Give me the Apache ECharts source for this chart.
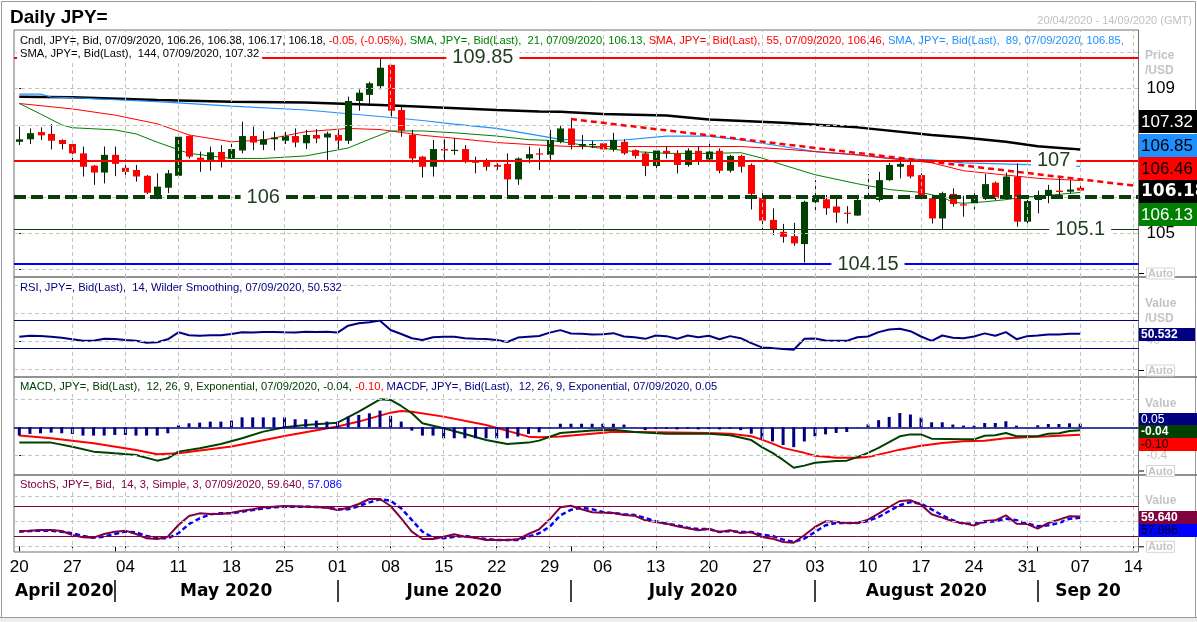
<!DOCTYPE html>
<html>
<head>
<meta charset="utf-8">
<title>Daily JPY=</title>
<script src="https://cdn.jsdelivr.net/npm/echarts@6.0.0/dist/echarts.min.js"></script>
<style>
html,body{margin:0;padding:0;background:#fff;}
#chart{width:1197px;height:622px;}
</style>
</head>
<body>
<div id="chart"></div>
<script>
// ---------- categories: trading days of 2020 (MM-DD) ----------
const dates = ['04-20','04-21','04-22','04-23','04-24','04-27','04-28','04-29','04-30',
'05-01','05-04','05-05','05-06','05-07','05-08','05-11','05-12','05-13','05-14','05-15',
'05-18','05-19','05-20','05-21','05-22','05-25','05-26','05-27','05-28','05-29',
'06-01','06-02','06-03','06-04','06-05','06-08','06-09','06-10','06-11','06-12',
'06-15','06-16','06-17','06-18','06-19','06-22','06-23','06-24','06-25','06-26',
'06-29','06-30','07-01','07-02','07-03','07-06','07-07','07-08','07-09','07-10',
'07-13','07-14','07-15','07-16','07-17','07-20','07-21','07-22','07-23','07-24',
'07-27','07-28','07-29','07-30','07-31','08-03','08-04','08-05','08-06','08-07',
'08-10','08-11','08-12','08-13','08-14','08-17','08-18','08-19','08-20','08-21',
'08-24','08-25','08-26','08-27','08-28','08-31','09-01','09-02','09-03','09-04',
'09-07','09-08','09-09','09-10','09-11','09-14'];
const monthNames = ['April 2020','May 2020','June 2020','July 2020','August 2020','Sep 20'];

// ---------- candles (Apr 20 .. Sep 7) ----------
const open = [107.53,107.60,107.80,107.75,107.58,107.47,107.21,106.87,106.68,107.17,
106.81,106.75,106.59,106.04,106.26,106.59,107.69,107.09,107.03,107.25,
107.07,107.29,107.69,107.45,107.60,107.56,107.69,107.49,107.72,107.65,
107.72,107.56,108.66,108.83,109.07,109.66,108.41,107.72,107.12,106.84,
107.33,107.30,107.33,107.01,106.98,106.89,106.92,106.49,107.07,107.21,
107.17,107.53,107.90,107.42,107.44,107.49,107.32,107.53,107.30,107.21,
106.86,107.28,107.21,106.89,107.28,107.04,107.28,106.73,107.14,106.89,
105.97,105.37,105.04,104.92,104.70,105.86,105.94,105.74,105.57,105.49,
105.98,105.92,106.47,106.84,106.89,106.61,105.97,105.41,106.09,105.80,
105.83,106.01,106.40,105.97,106.57,105.32,105.92,106.03,106.18,106.15,
106.26];
const high = [107.95,107.90,107.93,108.02,107.60,107.58,107.40,106.89,107.40,107.40,
107.05,106.89,106.61,106.66,106.75,107.77,107.71,107.26,107.40,107.44,
107.49,108.09,107.95,107.83,107.81,107.81,107.90,107.86,107.88,107.81,
107.86,108.78,108.98,109.19,109.85,109.66,108.50,107.86,107.14,107.58,
107.60,107.63,107.44,107.12,107.07,106.94,107.21,107.10,107.40,107.35,
107.86,107.97,108.16,107.72,107.56,107.58,107.78,107.60,107.32,107.26,
107.40,107.40,107.30,107.35,107.40,107.51,107.35,107.17,107.17,106.93,
106.20,105.69,105.26,105.29,105.90,106.47,106.06,105.97,105.75,106.06,
106.64,106.70,106.95,107.07,106.98,106.66,106.01,106.15,106.24,106.04,
106.11,106.64,106.43,106.68,106.93,105.92,106.18,106.34,106.57,106.47,
106.38];
const low = [107.44,107.47,107.58,107.32,107.32,106.98,106.57,106.34,106.38,106.58,
106.57,106.43,106.09,105.94,106.11,106.52,107.07,106.70,106.73,106.82,
107.05,107.21,107.30,107.30,107.29,107.47,107.38,107.33,107.49,107.03,
107.33,107.47,108.39,108.58,108.98,108.23,107.67,106.95,106.54,106.57,
106.98,107.17,106.94,106.66,106.73,106.75,106.01,106.34,106.94,106.75,
107.03,107.49,107.32,107.32,107.36,107.26,107.26,107.17,107.07,106.58,
106.75,107.07,106.66,106.84,106.89,106.98,106.66,106.68,106.68,105.66,
105.11,104.95,104.74,104.65,104.19,105.57,105.51,105.29,105.27,105.48,
105.92,105.87,106.45,106.52,106.52,105.95,105.27,105.09,105.74,105.46,
105.66,105.92,105.92,105.94,105.18,105.27,105.55,105.83,106.03,106.11,
106.17];
const close = [107.60,107.77,107.71,107.56,107.47,107.21,106.84,106.68,107.17,106.92,
106.70,106.57,106.12,106.29,106.66,107.67,107.12,107.03,107.24,107.03,
107.33,107.69,107.51,107.60,107.65,107.69,107.51,107.72,107.62,107.76,
107.56,108.66,108.89,109.15,109.58,108.39,107.84,107.07,106.84,107.33,
107.29,107.31,106.98,106.95,106.84,106.84,106.49,107.07,107.19,107.18,
107.58,107.90,107.44,107.47,107.47,107.32,107.58,107.21,107.14,106.86,
107.29,107.21,106.89,107.29,106.98,107.26,106.73,107.14,106.84,106.09,
105.35,105.09,104.90,104.72,105.87,106.04,105.69,105.57,105.55,105.92,
106.05,106.47,106.89,106.92,106.57,105.99,105.41,106.11,105.81,105.78,
106.04,106.36,105.97,106.57,105.32,105.89,106.03,106.20,106.14,106.21,
106.18];

// ---------- moving averages (read at sample days) ----------
const sma21 = [['04-20',108.59],['04-22',108.30],['04-24',108.00],['04-27',107.92],['05-01',107.86],['05-05',107.75],['05-07',107.52],['05-12',107.21],['05-18',107.07],['05-21',107.07],['05-27',107.14],['06-02',107.36],['06-04',107.60],['06-08',107.83],['06-11',107.83],['06-16',107.78],['06-22',107.69],['06-25',107.59],['06-29',107.57],['07-01',107.50],['07-03',107.38],['07-09',107.26],['07-14',107.21],['07-20',107.21],['07-23',107.23],['07-27',107.08],['07-29',106.89],['08-03',106.62],['08-07',106.37],['08-12',106.21],['08-17',106.13],['08-19',106.00],['08-20',105.86],['08-21',105.83],['08-25',105.87],['08-27',105.93],['08-31',106.01],['09-02',106.05],['09-07',106.13]];
const sma55 = [['04-20',108.59],['04-27',108.44],['05-01',108.27],['05-07',108.03],['05-12',107.72],['05-18',107.53],['05-21',107.58],['05-27',107.81],['06-02',107.90],['06-05',107.87],['06-11',107.71],['06-16',107.63],['06-22',107.51],['06-26',107.44],['07-01',107.40],['07-13',107.40],['07-23',107.40],['07-29',107.33],['08-03',107.26],['08-07',107.17],['08-12',107.07],['08-18',106.95],['08-21',106.73],['08-27',106.61],['09-01',106.52],['09-07',106.46]];
const sma89 = [['04-20',108.85],['04-22',108.85],['04-23',108.77],['04-27',108.75],['05-07',108.64],['05-18',108.52],['05-27',108.41],['06-05',108.23],['06-11',108.12],['06-16',108.02],['06-22',107.90],['06-26',107.70],['06-30',107.60],['07-03',107.56],['07-08',107.58],['07-14',107.69],['07-20',107.69],['07-23',107.58],['07-29',107.40],['08-03',107.26],['08-07',107.17],['08-12',107.07],['08-18',107.03],['08-21',106.95],['08-31',106.90],['09-07',106.85]];
const sma144 = [['04-20',108.78],['04-27',108.76],['05-07',108.69],['05-18',108.64],['05-27',108.62],['06-05',108.55],['06-11',108.50],['06-22',108.41],['06-26',108.37],['06-30',108.36],['07-06',108.30],['07-14',108.26],['07-20',108.15],['07-29',108.06],['08-07',107.93],['08-18',107.72],['08-21',107.65],['08-27',107.53],['09-01',107.41],['09-07',107.32]];

// ---------- price levels & trend line ----------
const levels = [109.85, 107, 106, 105.1, 104.15];
const levelText = ['109.85', '107', '106', '105.1', '104.15'];
const trend = [['07-01', 108.16], ['09-14', 106.32]];

// ---------- RSI(14) ----------
const rsi = [46.3,47.8,47.3,46.3,44.9,42.5,40.6,40.6,43.4,42.9,
41.6,40.6,37.7,38.2,42.5,52.6,48.3,47.8,48.3,48.3,
50.2,52.6,52.2,53.1,53.1,52.6,52.2,53.6,53.1,53.6,
52.2,62.2,65.6,67.0,69.5,56.0,50.2,44.0,41.6,45.4,
46.3,46.3,44.0,43.4,42.9,41.6,38.7,45.0,46.3,47.3,
52.2,55.8,51.0,50.7,49.4,49.8,51.4,46.6,45.6,43.2,
48.0,47.1,43.2,48.0,45.6,47.6,42.7,47.1,44.2,37.0,
30.8,29.8,28.4,27.4,43.2,43.7,40.8,40.3,40.3,45.6,
46.6,52.9,56.7,57.7,54.3,46.6,40.3,48.0,44.7,44.2,
46.6,51.1,47.6,52.9,42.7,47.1,48.0,49.5,49.5,50.5,
50.532];
const rsiBands = [70, 30];

// ---------- MACD (12,26,9) ----------
const macdHist = [-0.117,-0.094,-0.085,-0.075,-0.085,-0.094,-0.117,-0.117,-0.117,-0.108,
-0.108,-0.117,-0.117,-0.117,-0.085,0.028,0.056,0.066,0.08,0.08,
0.094,0.14,0.14,0.14,0.14,0.14,0.113,0.113,0.094,0.08,
0.08,0.15,0.174,0.197,0.235,0.16,0.08,-0.047,-0.117,-0.117,
-0.155,-0.155,-0.155,-0.155,-0.155,-0.155,-0.155,-0.13,-0.094,-0.07,
-0.008,0.05,0.05,0.05,0.05,0.05,0.05,0.038,0.003,-0.04,
-0.02,-0.02,-0.03,-0.02,-0.03,-0.02,-0.03,-0.02,-0.04,-0.09,
-0.17,-0.2,-0.25,-0.28,-0.2,-0.127,-0.1,-0.08,-0.066,-0.005,
0.04,0.1,0.146,0.2,0.18,0.136,0.07,0.07,0.038,0.023,
0.023,0.06,0.06,0.085,0.023,-0.003,0.028,0.047,0.047,0.056,
0.05];
const macdLine = [['04-20',-0.216],['04-23',-0.216],['04-27',-0.273],['04-29',-0.343],['05-01',-0.367],['05-05',-0.39],['05-07',-0.47],['05-08',-0.437],['05-11',-0.343],['05-13',-0.296],['05-15',-0.235],['05-19',-0.155],['05-21',-0.061],['05-25',0.0],['05-27',0.032],['06-01',0.065],['06-03',0.22],['06-05',0.394],['06-08',0.385],['06-09',0.30],['06-10',0.197],['06-11',0.056],['06-15',-0.014],['06-17',-0.094],['06-19',-0.18],['06-23',-0.235],['06-25',-0.216],['06-26',-0.188],['06-30',-0.08],['07-03',-0.045],['07-07',-0.035],['07-09',-0.066],['07-14',-0.09],['07-20',-0.09],['07-22',-0.113],['07-24',-0.18],['07-27',-0.28],['07-28',-0.36],['07-29',-0.46],['07-30',-0.57],['07-31',-0.54],['08-03',-0.50],['08-05',-0.475],['08-06',-0.47],['08-07',-0.42],['08-10',-0.36],['08-11',-0.29],['08-12',-0.21],['08-13',-0.127],['08-14',-0.10],['08-17',-0.10],['08-18',-0.16],['08-21',-0.17],['08-24',-0.17],['08-25',-0.12],['08-26',-0.113],['08-27',-0.08],['08-28',-0.127],['09-01',-0.125],['09-02',-0.09],['09-03',-0.085],['09-04',-0.052],['09-07',-0.042]];
const macdSignal = [['04-20',-0.117],['04-23',-0.155],['04-29',-0.225],['05-05',-0.32],['05-07',-0.38],['05-11',-0.367],['05-18',-0.272],['05-25',-0.122],['06-01',0.01],['06-03',0.08],['06-08',0.206],['06-09',0.23],['06-10',0.22],['06-15',0.15],['06-19',0.032],['06-25',-0.132],['06-26',-0.141],['06-30',-0.13],['07-03',-0.09],['07-07',-0.063],['07-13',-0.07],['07-20',-0.08],['07-22',-0.09],['07-24',-0.127],['07-27',-0.174],['07-28',-0.23],['07-29',-0.29],['07-30',-0.325],['07-31',-0.36],['08-03',-0.40],['08-05',-0.43],['08-07',-0.43],['08-10',-0.42],['08-11',-0.385],['08-13',-0.315],['08-17',-0.26],['08-19',-0.22],['08-21',-0.197],['08-25',-0.19],['08-27',-0.155],['08-31',-0.14],['09-02',-0.127],['09-07',-0.104]];

// ---------- Slow stochastic (14,3,3) ----------
const stochK = [30.6,31.3,32.6,32.6,30.6,22.6,17.9,17.3,24.6,29.3,
31.3,24.6,15.9,14.6,19.3,42.6,60.6,65.9,64.6,64.6,
67.3,71.3,73.9,77.9,79.3,80.6,80.0,79.3,78.6,77.3,
72.6,77.3,84.6,94.6,94.6,80.6,55.9,29.3,14.6,14.6,
19.3,23.9,19.3,17.3,12.6,12.6,12.6,13.9,24.6,33.9,
53.9,78,81,74,68,67.3,66.6,62.6,61.3,52,
48.6,45.3,40,36,32,34.6,28.6,32,26.6,28.6,
18.6,15.3,8.6,7.3,22,38.6,50,49.3,46.6,46.6,
53.3,65.3,78.6,90.6,92,83.3,64,57.3,50,46.6,
41.3,50.6,52,62,45.3,44.6,35.3,46.6,53.3,60,
59.64];
const stochD = [29.3,30.6,31.3,31.3,29.3,26,20.6,17.3,19.3,24.6,
29.3,28.0,20.6,15.9,15.9,26,44.6,55.9,63.9,65.9,
65.9,69.3,72.6,75.9,77.9,79.3,79.3,79.3,78.6,77.9,
73.9,73.9,80.6,87.9,93.9,91.3,75.9,52.6,29.3,17.3,
15.9,19.3,20.6,17.3,14.6,12.6,12.6,12.6,19.3,26,
39.3,62,73,77,74,68.6,66.6,64,62.6,56.6,
50,45.3,42,37.3,34.6,34.6,28.6,30.6,28.6,28.6,
23.3,20.6,13.3,8.6,15.3,28.6,42,46.6,46.6,46.6,
50.6,58.6,70.6,82,88.6,85.3,74,62,52,45.3,
45.3,48.6,50,55.3,52,45.3,40,42,46.6,55.3,
57.086];
const stochBands = [80, 20];

// ---------- helpers ----------
const FONT = '"Liberation Sans", Arial, sans-serif';
const LF = 11.2; // legend font size
const N = dates.length;
const di = d => dates.indexOf(d);
const daily = arr => arr.map((v, i) => [i, v]);
const pts = arr => arr.map(([d, v]) => [di(d), v]);
const mondays = dates.map((d, i) => new Date('2020-' + d + 'T12:00:00Z').getUTCDay() === 1 ? i : -1).filter(i => i >= 0);
const monthStarts = dates.map((d, i) => (i > 0 && d.slice(0, 2) !== dates[i - 1].slice(0, 2)) ? i : -1).filter(i => i >= 0);
const bounds = [-0.5, ...monthStarts, N - 0.5];
const monthMid = monthNames.map((m, k) => (bounds[k] + bounds[k + 1]) / 2);
const dayTicks = [...mondays, ...monthStarts].sort((a, b) => a - b);
const gridMondays = mondays.filter(i => i > 0);

const L = 14, W = 1124.5;
const grids = [
  {left: L, top: 30, width: W, height: 247},
  {left: L, top: 277, width: W, height: 100},
  {left: L, top: 377, width: W, height: 98},
  {left: L, top: 475, width: W, height: 77}
].map(g => Object.assign(g, {show: true, borderColor: '#6e6e6e', borderWidth: 1, backgroundColor: 'transparent'}));

const xBase = {type: 'value', min: -0.5, max: N - 0.5, axisLine: {show: false}, axisTick: {show: false}, axisLabel: {show: false}, splitLine: {show: false}};
const xAxes = [
  Object.assign({}, xBase, {gridIndex: 0}),
  Object.assign({}, xBase, {gridIndex: 1}),
  Object.assign({}, xBase, {gridIndex: 2}),
  Object.assign({}, xBase, {gridIndex: 3,
    axisTick: {show: true, customValues: dayTicks, length: 5, lineStyle: {color: '#000', width: 1}},
    axisLabel: {show: true, customValues: mondays, formatter: v => dates[Math.round(v)].slice(3), fontSize: 17, color: '#000', fontFamily: FONT, margin: 7}}),
  Object.assign({}, xBase, {gridIndex: 3, position: 'bottom', offset: 28,
    axisTick: {show: true, customValues: monthStarts, length: 22, lineStyle: {color: '#000', width: 1.5}},
    axisLabel: {show: true, customValues: monthMid, formatter: v => monthNames[monthMid.indexOf(v)] || '', fontSize: 17, fontWeight: 'bold', color: '#000', fontFamily: '"DejaVu Sans", sans-serif', margin: 3}})
];

const yBase = {type: 'value', position: 'right', axisLine: {show: false}, splitLine: {show: false}, scale: true};
const yAxes = [
  Object.assign({}, yBase, {gridIndex: 0, min: 103.79, max: 110.624,
    axisTick: {show: true, customValues: [104, 105, 109], length: 5, lineStyle: {color: '#000'}},
    axisLabel: {customValues: [105, 109], fontSize: 17, color: '#000', fontFamily: FONT, margin: 8}}),
  Object.assign({}, yBase, {gridIndex: 1, min: -11.9, max: 132.5,
    axisTick: {show: true, customValues: [40], length: 5, lineStyle: {color: '#000'}},
    axisLabel: {customValues: [40], fontSize: 12, color: '#c0c0c0', fontFamily: FONT, margin: 8}}),
  Object.assign({}, yBase, {gridIndex: 2, min: -0.672, max: 0.708,
    axisTick: {show: true, customValues: [-0.4], length: 5, lineStyle: {color: '#000'}},
    axisLabel: {customValues: [-0.4], fontSize: 12, color: '#c0c0c0', fontFamily: FONT, margin: 8}}),
  Object.assign({}, yBase, {gridIndex: 3, min: -11.4, max: 142.6,
    axisTick: {show: false}, axisLabel: {show: false}})
];

function gridLines(k, hvals, z) {
  return {type: 'line', xAxisIndex: k, yAxisIndex: k, data: [], z: z || 1, silent: true,
    markLine: {silent: true, symbol: ['none', 'none'], label: {show: false}, animation: false,
      lineStyle: {color: '#c4c4c4', type: [4, 3], width: 1},
      data: [...gridMondays.map(i => ({xAxis: i})), ...hvals.map(v => ({yAxis: v}))]}};
}
function bandLines(k, vals, color, width, z) {
  return {type: 'line', xAxisIndex: k, yAxisIndex: k, data: [], z: z || 2, silent: true,
    markLine: {silent: true, symbol: ['none', 'none'], label: {show: false}, animation: false,
      lineStyle: {color: color, type: 'solid', width: width},
      data: vals.map(v => ({yAxis: v}))}};
}
function lineS(k, data, color, width, z, dash) {
  return {type: 'line', xAxisIndex: k, yAxisIndex: k, data: data, showSymbol: false, symbol: 'none',
    connectNulls: true, z: z || 3, silent: true, animation: false,
    lineStyle: {color: color, width: width, type: dash || 'solid'}};
}

const levelStyles = [
  {color: '#ff0000', width: 2, type: 'solid'},
  {color: '#ff0000', width: 2, type: 'solid'},
  {color: '#0b3d0b', width: 4, type: [12, 5]},
  {color: '#0b3d0b', width: 1, type: 'solid'},
  {color: '#0000ff', width: 2, type: 'solid'}
];
const levelLabelAt = [43.7, 97.5, 23, 100, 80];

function renderCandle(params, api) {
  const i = api.value(0), o = api.value(1), c = api.value(2), lo = api.value(3), hi = api.value(4);
  const pO = api.coord([i, o]), pC = api.coord([i, c]), pL = api.coord([i, lo]), pH = api.coord([i, hi]);
  const bw = Math.max(3, Math.round(api.size([1, 0])[0] * 0.66));
  const xc = Math.round(pO[0]) + 0.5;
  const top = Math.min(pO[1], pC[1]);
  const h = Math.max(1.2, Math.abs(pO[1] - pC[1]));
  const up = c >= o;
  return {type: 'group', children: [
    {type: 'line', shape: {x1: xc, y1: pH[1], x2: xc, y2: pL[1]}, style: {stroke: '#111', lineWidth: 1}},
    {type: 'rect', shape: {x: xc - bw / 2, y: top, width: bw, height: h}, style: {fill: up ? '#004000' : '#ff0000'}}
  ]};
}

const series = [
  gridLines(0, [104, 105, 106, 107, 108, 109, 110]),
  gridLines(1, [0, 40, 80, 120]),
  gridLines(2, [-0.4, 0.4]),
  gridLines(3, [0, 50, 100]),
  // main levels
  {type: 'line', xAxisIndex: 0, yAxisIndex: 0, data: [], z: 2, silent: true,
    markLine: {silent: true, symbol: ['none', 'none'], label: {show: false}, animation: false,
      data: levels.map((v, k) => ({yAxis: v, lineStyle: levelStyles[k]}))}},
  lineS(0, pts(sma144), '#000000', 2.5, 3),
  lineS(0, pts(sma89), '#1e90ff', 1.2, 3),
  lineS(0, pts(sma55), '#ff0000', 1, 3),
  lineS(0, pts(sma21), '#008000', 1, 3),
  {type: 'custom', xAxisIndex: 0, yAxisIndex: 0, renderItem: renderCandle, z: 4, silent: true, animation: false,
    encode: {x: 0, y: [1, 2, 3, 4]},
    data: open.map((o, i) => [i, o, close[i], low[i], high[i]])},
  // trend line
  {type: 'line', xAxisIndex: 0, yAxisIndex: 0, data: [], z: 5, silent: true,
    markLine: {silent: true, symbol: ['none', 'none'], label: {show: false}, animation: false,
      lineStyle: {color: '#ff0000', width: 2.5, type: [6, 4]},
      data: [[{coord: [di(trend[0][0]), trend[0][1]]}, {coord: [di(trend[1][0]), trend[1][1]]}]]}},
  // level labels
  {type: 'line', xAxisIndex: 0, yAxisIndex: 0, data: [], z: 6, silent: true,
    markPoint: {silent: true, animation: false, symbol: 'rect', symbolSize: 1, itemStyle: {color: 'rgba(0,0,0,0)'},
      label: {show: true, position: 'inside', color: '#1f3d1f', fontSize: 20, fontFamily: FONT,
        backgroundColor: '#ffffff', padding: [1, 6, 0, 6], formatter: p => p.name},
      data: levels.map((v, k) => ({name: levelText[k], coord: [levelLabelAt[k], v]}))}},
  // RSI
  bandLines(1, rsiBands, '#000080', 1),
  lineS(1, daily(rsi), '#000080', 2, 4),
  // MACD
  bandLines(2, [0], '#000080', 1.5),
  lineS(2, pts(macdSignal), '#ff0000', 2, 3),
  lineS(2, pts(macdLine), '#004000', 2, 3),
  {type: 'bar', xAxisIndex: 2, yAxisIndex: 2, data: daily(macdHist), barWidth: 3, z: 4, silent: true, animation: false,
    itemStyle: {color: '#000080'}},
  // Stochastic
  bandLines(3, stochBands, '#800040', 1),
  lineS(3, daily(stochD), '#0000ff', 2.5, 3, [5, 3]),
  lineS(3, daily(stochK), '#800040', 2, 4)
];

const chart = echarts.init(document.getElementById('chart'));
chart.setOption({
  animation: false,
  backgroundColor: '#ffffff',
  textStyle: {fontFamily: FONT},
  grid: grids,
  xAxis: xAxes,
  yAxis: yAxes,
  series: series
});

// ---------- annotations (texts, value tags) ----------
const yp = (k, v) => chart.convertToPixel({yAxisIndex: k}, v);
const g = [];
function txt(x, y, text, o) {
  g.push({type: 'text', x: x, y: y, z: 100, silent: true,
    style: Object.assign({text: text, fill: '#000', font: LF + 'px ' + FONT, align: 'left', verticalAlign: 'middle'}, o || {})});
}
function tag(yc, h, w, bg, fg, text, font) {
  g.push({type: 'rect', z: 100, silent: true, shape: {x: 1139, y: Math.round(yc - h / 2), width: w, height: h}, style: {fill: bg}});
  txt(1141, Math.round(yc - h / 2) + h / 2 + 0.5, text, {fill: fg, font: font});
}
function ln(x1, y1, x2, y2, color, w) {
  g.push({type: 'line', z: 99, silent: true, shape: {x1: x1, y1: y1, x2: x2, y2: y2}, style: {stroke: color, lineWidth: w}});
}
function auto(yc) {
  ln(1139, yc, 1144, yc, '#000', 1);
  g.push({type: 'rect', z: 100, silent: true, shape: {x: 1146.5, y: yc - 5.5, width: 28, height: 11}, style: {fill: '#fff', stroke: '#d4d4d4', lineWidth: 1}});
  txt(1160.5, yc + 0.5, 'Auto', {fill: '#c4c4c4', font: 'bold 11px ' + FONT, align: 'center'});
}
const grey = {fill: '#c4c4c4', font: 'bold 12px ' + FONT};
const rs = c => ({fill: c, fontSize: LF, fontFamily: FONT});

// frame
g.push({type: 'rect', z: 98, silent: true, shape: {x: 0, y: 617, width: 1197, height: 5}, style: {fill: '#ececec'}});
ln(1.5, 1.5, 1195.5, 1.5, '#9a9a9a', 1);
ln(1.5, 1.5, 1.5, 617, '#9a9a9a', 1);
ln(1195.5, 1.5, 1195.5, 617, '#9a9a9a', 1);
ln(0, 617.5, 1197, 617.5, '#9a9a9a', 1);
// panel separators into the scale area
[277, 377, 475].forEach(y => ln(1138, y, 1197, y, '#6e6e6e', 1.5));

// title & range
txt(10, 18, 'Daily JPY=', {font: 'bold 19px ' + FONT});
txt(1192, 21, '20/04/2020 - 14/09/2020 (GMT)', {fill: '#c0c0c0', font: '11px ' + FONT, align: 'right'});

// legends
g.push({type: 'text', x: 20, y: 41, z: 100, silent: true, style: {
  text: '{k|Cndl, JPY=, Bid, 07/09/2020, 106.26, 106.38, 106.17, 106.18, }{r|-0.05, (-0.05%), }{g|SMA, JPY=, Bid(Last),  21, 07/09/2020, 106.13, }{r|SMA, JPY=, Bid(Last),  55, 07/09/2020, 106.46, }{b|SMA, JPY=, Bid(Last),  89, 07/09/2020, 106.85,}',
  verticalAlign: 'middle', align: 'left',
  rich: {k: rs('#000'), r: rs('#ff0000'), g: rs('#008000'), b: rs('#1e90ff')}}});
txt(17, 54, 'SMA, JPY=, Bid(Last),  144, 07/09/2020, 107.32', {backgroundColor: '#fff', padding: [1, 3, 1, 3]});
txt(20, 288, 'RSI, JPY=, Bid(Last),  14, Wilder Smoothing, 07/09/2020, 50.532', {fill: '#000080', backgroundColor: '#fff'});
g.push({type: 'text', x: 20, y: 387, z: 100, silent: true, style: {
  text: '{g|MACD, JPY=, Bid(Last),  12, 26, 9, Exponential, 07/09/2020, -0.04, }{r|-0.10, }{n|MACDF, JPY=, Bid(Last),  12, 26, 9, Exponential, 07/09/2020, 0.05}',
  verticalAlign: 'middle', align: 'left', backgroundColor: '#fff',
  rich: {g: rs('#004000'), r: rs('#ff0000'), n: rs('#000080')}}});
g.push({type: 'text', x: 20, y: 485, z: 100, silent: true, style: {
  text: '{m|StochS, JPY=, Bid,  14, 3, Simple, 3, 07/09/2020, 59.640, }{b|57.086}',
  verticalAlign: 'middle', align: 'left', backgroundColor: '#fff',
  rich: {m: rs('#800040'), b: rs('#0000ff')}}});

// right scale captions
txt(1145, 56, 'Price', grey); txt(1145, 71, '/USD', grey);
txt(1145, 304, 'Value', grey); txt(1145, 319, '/USD', grey);
txt(1145, 404, 'Value', grey);
txt(1145, 501, 'Value', grey);
auto(273.5); auto(370.5); auto(471); auto(546.8);

// main value tags, stacked around the last close
const last = a => a[a.length - 1][1];
const yc = yp(0, close[close.length - 1]) + 0.8;
const H = 23.2, F17 = '17px ' + FONT;
tag(yc - 3 * H, 23, 58, '#000000', '#ffffff', last(sma144).toFixed(2), F17);
tag(yc - 2 * H, 23, 58, '#1e90ff', '#000000', last(sma89).toFixed(2), F17);
tag(yc - H, 23, 58, '#ff0000', '#000000', last(sma55).toFixed(2), F17);
tag(yc, 23, 58, '#000000', '#ffffff', close[close.length - 1].toFixed(2), 'bold 17px "DejaVu Sans", sans-serif');
tag(yc + H, 23, 58, '#008000', '#ffffff', last(sma21).toFixed(2), F17);

// indicator tags
tag(yp(1, rsi[rsi.length - 1]) + 0.8, 13, 56, '#000080', '#ffffff', rsi[rsi.length - 1].toFixed(3), 'bold 12px ' + FONT);
const ym = yp(2, last(macdLine)) + 1.7;
tag(ym - 12.8, 13, 58, '#000080', '#ffffff', macdHist[macdHist.length - 1].toFixed(2), '12px ' + FONT);
tag(ym, 13, 58, '#004000', '#ffffff', last(macdLine).toFixed(2), 'bold 12px ' + FONT);
tag(ym + 12.8, 13, 58, '#ff0000', '#000000', last(macdSignal).toFixed(2), '12px ' + FONT);
const ys = yp(3, stochK[stochK.length - 1]) + 1.1;
tag(ys, 13, 58, '#800040', '#ffffff', stochK[stochK.length - 1].toFixed(3), 'bold 12px ' + FONT);
tag(ys + 12.8, 13, 58, '#0000ff', '#000000', stochD[stochD.length - 1].toFixed(3), '12px ' + FONT);

chart.setOption({graphic: g});
</script>
</body>
</html>
